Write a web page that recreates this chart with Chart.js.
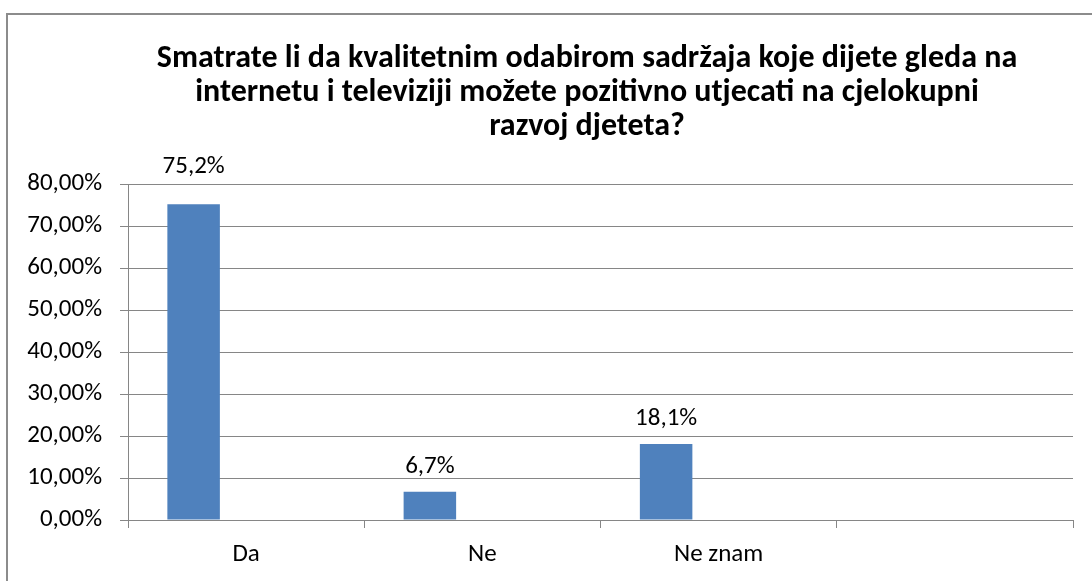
<!DOCTYPE html>
<html>
<head>
<meta charset="utf-8">
<script src="https://cdn.jsdelivr.net/npm/chart.js@4.4.0/dist/chart.umd.min.js"></script>
<style>
  html, body { margin: 0; padding: 0; background: #fff; }
  #wrap { position: relative; width: 1092px; height: 581px; }
</style>
</head>
<body>
<div id="wrap"><canvas id="c" width="1092" height="581"></canvas></div>
<script>
const titleLines = [
  'Smatrate li da kvalitetnim odabirom sadržaja koje dijete gleda na',
  'internetu i televiziji možete pozitivno utjecati na cjelokupni',
  'razvoj djeteta?'
];
const categories = ['Da', 'Ne', 'Ne znam', ''];
const seriesValues = [75.2, 6.7, 18.1, null];
const emptySeries = [null, null, null, null];
const dataLabels = ['75,2%', '6,7%', '18,1%', ''];
const yTicks = [0, 10, 20, 30, 40, 50, 60, 70, 80];

const FONT = 'Carlito, Calibri, Lato, sans-serif';
const GRID = '#868686';
const LABEL_SIZE = 25;
const TITLE_LEFT = 101;

const frame = {
  id: 'frame',
  afterLayout(chart) {
    if (chart.titleBlock) chart.titleBlock.left = TITLE_LEFT;
  },
  beforeDraw(chart) {
    const ctx = chart.ctx;
    ctx.save();
    ctx.fillStyle = '#fff';
    ctx.fillRect(0, 0, chart.width, chart.height);
    ctx.fillStyle = '#8c8c8c';
    ctx.fillRect(6, 13, 2, chart.height);
    ctx.fillRect(6, 13, chart.width, 2);
    ctx.restore();
  }
};

const barLabels = {
  id: 'barLabels',
  afterDatasetsDraw(chart) {
    const ctx = chart.ctx;
    const meta = chart.getDatasetMeta(0);
    ctx.save();
    ctx.font = LABEL_SIZE + 'px ' + FONT;
    ctx.fillStyle = '#000';
    ctx.textAlign = 'center';
    ctx.textBaseline = 'alphabetic';
    meta.data.forEach((bar, i) => {
      if (seriesValues[i] == null) return;
      let y = bar.y - 19;
      if (y < chart.chartArea.top + 6) y = chart.chartArea.top - 11;
      ctx.fillText(dataLabels[i], bar.x, y);
    });
    ctx.restore();
  }
};

new Chart(document.getElementById('c'), {
  type: 'bar',
  data: {
    labels: categories,
    datasets: [
      { label: 'Series 1', data: seriesValues, backgroundColor: '#4F81BD', borderWidth: 0,
        categoryPercentage: 0.889, barPercentage: 0.5 },
      { label: 'Series 2', data: emptySeries, backgroundColor: '#C0504D', borderWidth: 0,
        categoryPercentage: 0.889, barPercentage: 0.5 }
    ]
  },
  options: {
    responsive: false,
    animation: false,
    devicePixelRatio: 1,
    layout: { padding: { left: 0, right: 19, top: 0, bottom: 0 } },
    plugins: {
      legend: { display: false },
      tooltip: { enabled: false },
      title: {
        display: true,
        text: titleLines,
        color: '#000',
        font: { family: FONT, size: 32, weight: 'bold', lineHeight: 34 / 32 },
        padding: { top: 42, bottom: 40 }
      }
    },
    scales: {
      x: {
        grid: { display: true, drawOnChartArea: false, drawTicks: true, tickLength: 8, color: GRID, offset: true },
        border: { display: true, color: GRID, width: 1 },
        ticks: { color: '#000', font: { family: FONT, size: LABEL_SIZE }, padding: 12, maxRotation: 0, autoSkip: false },
        afterFit(scale) { scale.height = 61; }
      },
      y: {
        min: 0, max: 80,
        afterBuildTicks(scale) { scale.ticks = yTicks.map(v => ({ value: v })); },
        grid: { color: GRID, tickLength: 8, drawTicks: true },
        border: { display: true, color: GRID, width: 1 },
        ticks: {
          color: '#000', font: { family: FONT, size: LABEL_SIZE }, padding: 18,
          callback: v => v.toFixed(2).replace('.', ',') + '%'
        },
        afterFit(scale) { scale.width = 128; }
      }
    }
  },
  plugins: [frame, barLabels]
});
</script>
</body>
</html>
